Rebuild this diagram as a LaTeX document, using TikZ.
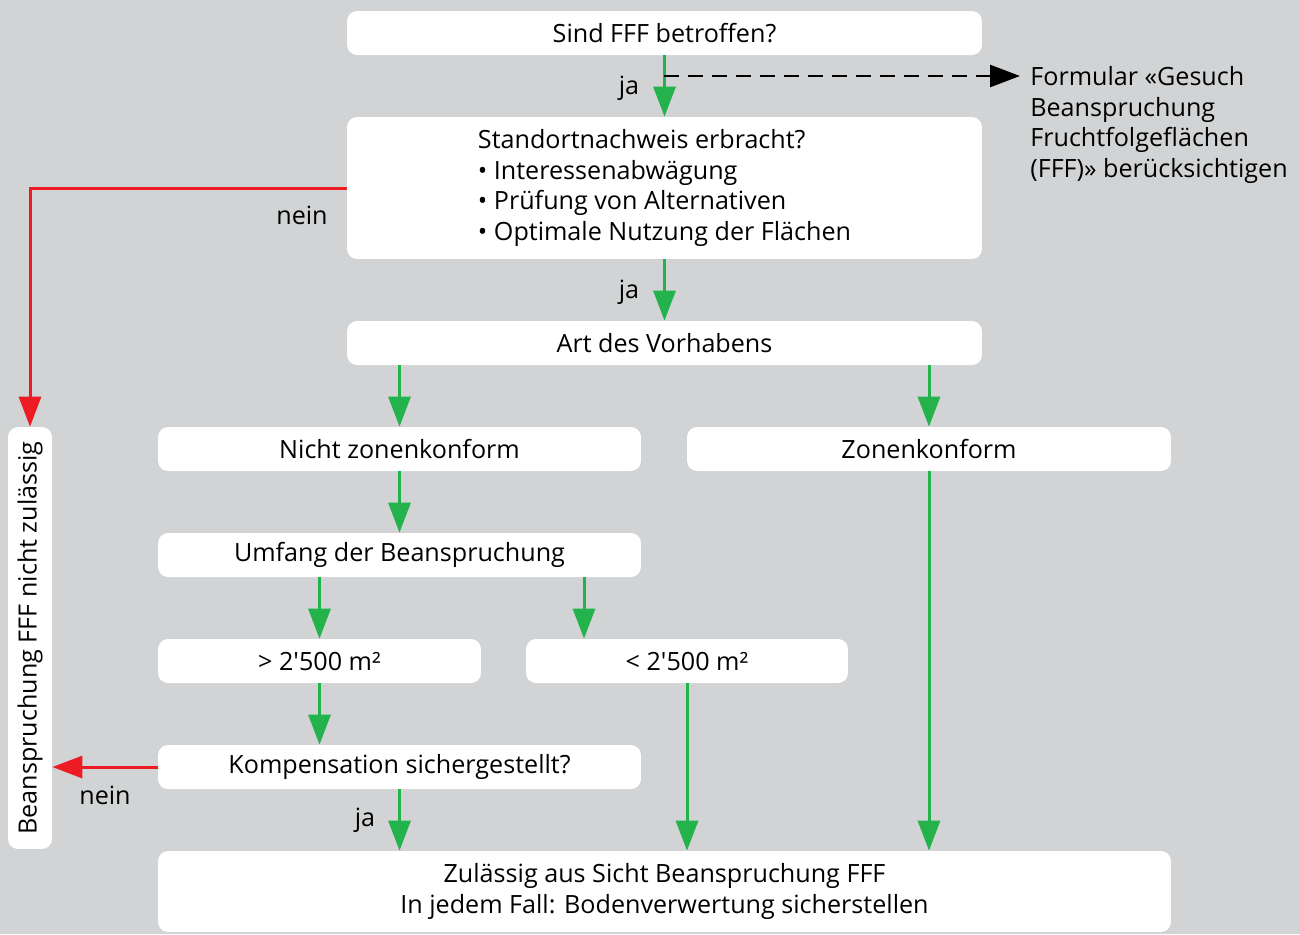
\documentclass[tikz,border=0pt]{standalone}
\usepackage{fontspec}
\setmainfont{Open Sans}[Ligatures=TeXOff]
\usetikzlibrary{arrows.meta,positioning}

\definecolor{bggray}{RGB}{209,211,212}
\definecolor{okgreen}{RGB}{35,178,75}
\definecolor{nored}{RGB}{237,28,36}

\begin{document}
\begin{tikzpicture}[x=0.02cm,y=-0.02cm,
  box/.style={fill=white,rounded corners=0.2cm,inner sep=0pt,font=\fontsize{14.3}{17.6}\selectfont},
  lbl/.style={font=\fontsize{14.3}{17.6}\selectfont,inner sep=0pt},
  yes/.style={draw=okgreen,line width=0.06cm,-{Triangle[length=0.6cm,width=0.44cm]}},
  no/.style={draw=nored,line width=0.06cm,-{Triangle[length=0.6cm,width=0.44cm]}}]

\fill[bggray] (0,0) rectangle (1300,934);

% boxes
\node[box,minimum width=12.7cm,minimum height=0.88cm] (fff) at (664.5,33) {Sind FFF betroffen?};
\node[box,minimum width=12.7cm,minimum height=2.84cm,align=left] (stand) at (664.5,188)
  {Standortnachweis erbracht?\\ • Interessenabwägung\\ • Prüfung von Alternativen\\ • Optimale Nutzung der Flächen};
\node[box,minimum width=12.7cm,minimum height=0.88cm] (art) at (664.5,343) {Art des Vorhabens};
\node[box,minimum width=9.66cm,minimum height=0.88cm] (nicht) at (399.5,449) {Nicht zonenkonform};
\node[box,minimum width=9.68cm,minimum height=0.88cm] (zone) at (929,449) {Zonenkonform};
\node[box,minimum width=9.66cm,minimum height=0.88cm] (umfang) at (399.5,555) {Umfang der Beanspruchung};
\node[box,minimum width=6.46cm,minimum height=0.88cm] (gross) at (319.5,661) {> 2'500 m²};
\node[box,minimum width=6.44cm,minimum height=0.88cm] (klein) at (687,661) {< 2'500 m²};
\node[box,minimum width=9.66cm,minimum height=0.88cm] (komp) at (399.5,767) {Kompensation sichergestellt?};
\node[box,minimum width=20.26cm,minimum height=1.62cm,align=center] (ok) at (664.5,891.5)
  {Zulässig aus Sicht Beanspruchung FFF\\ In jedem Fall: Bodenverwertung sicherstellen};
\node[box,minimum width=0.88cm,minimum height=8.44cm] (verbot) at (30,638)
  {\rotatebox{90}{Beanspruchung FFF nicht zulässig}};

\node[lbl,anchor=west,align=left] (form) at (1030,125)
  {Formular «Gesuch\\ Beanspruchung\\ Fruchtfolgeflächen\\ (FFF)» berücksichtigen};

% labels
\node[lbl] (ja1) at (629,88) {ja};
\node[lbl] (ja2) at (629,292) {ja};
\node[lbl] (ja3) at (365,820) {ja};
\node[lbl] (nein1) at (302,215) {nein};
\node[lbl] (nein2) at (105,795) {nein};

\coordinate (split) at (664,76);
\coordinate (kx) at (584,661);

% connectors
\draw[yes] (fff.south) -- (stand.north);
\draw[black,line width=0.055cm,dash pattern=on 0.3cm off 0.18cm,-{Triangle[length=0.6cm,width=0.44cm]},shorten >=0.2cm]
  (split) -- (form.west |- split);
\draw[yes] (stand.south) -- (art.north);
\draw[yes] (art.south -| nicht) -- (nicht.north);
\draw[yes] (art.south -| zone) -- (zone.north);
\draw[yes] (nicht.south) -- (umfang.north);
\draw[yes] (umfang.south -| gross) -- (gross.north);
\draw[yes] (umfang.south -| kx) -- (klein.north -| kx);
\draw[yes] (gross.south) -- (gross.south |- komp.north);
\draw[yes] (komp.south) -- (komp.south |- ok.north);
\draw[yes] (klein.south) -- (klein.south |- ok.north);
\draw[yes] (zone.south) -- (zone.south |- ok.north);
\draw[no] (stand.west) -| (verbot.north);
\draw[no] (komp.west) -- (verbot.east |- komp.west);

\end{tikzpicture}
\end{document}
